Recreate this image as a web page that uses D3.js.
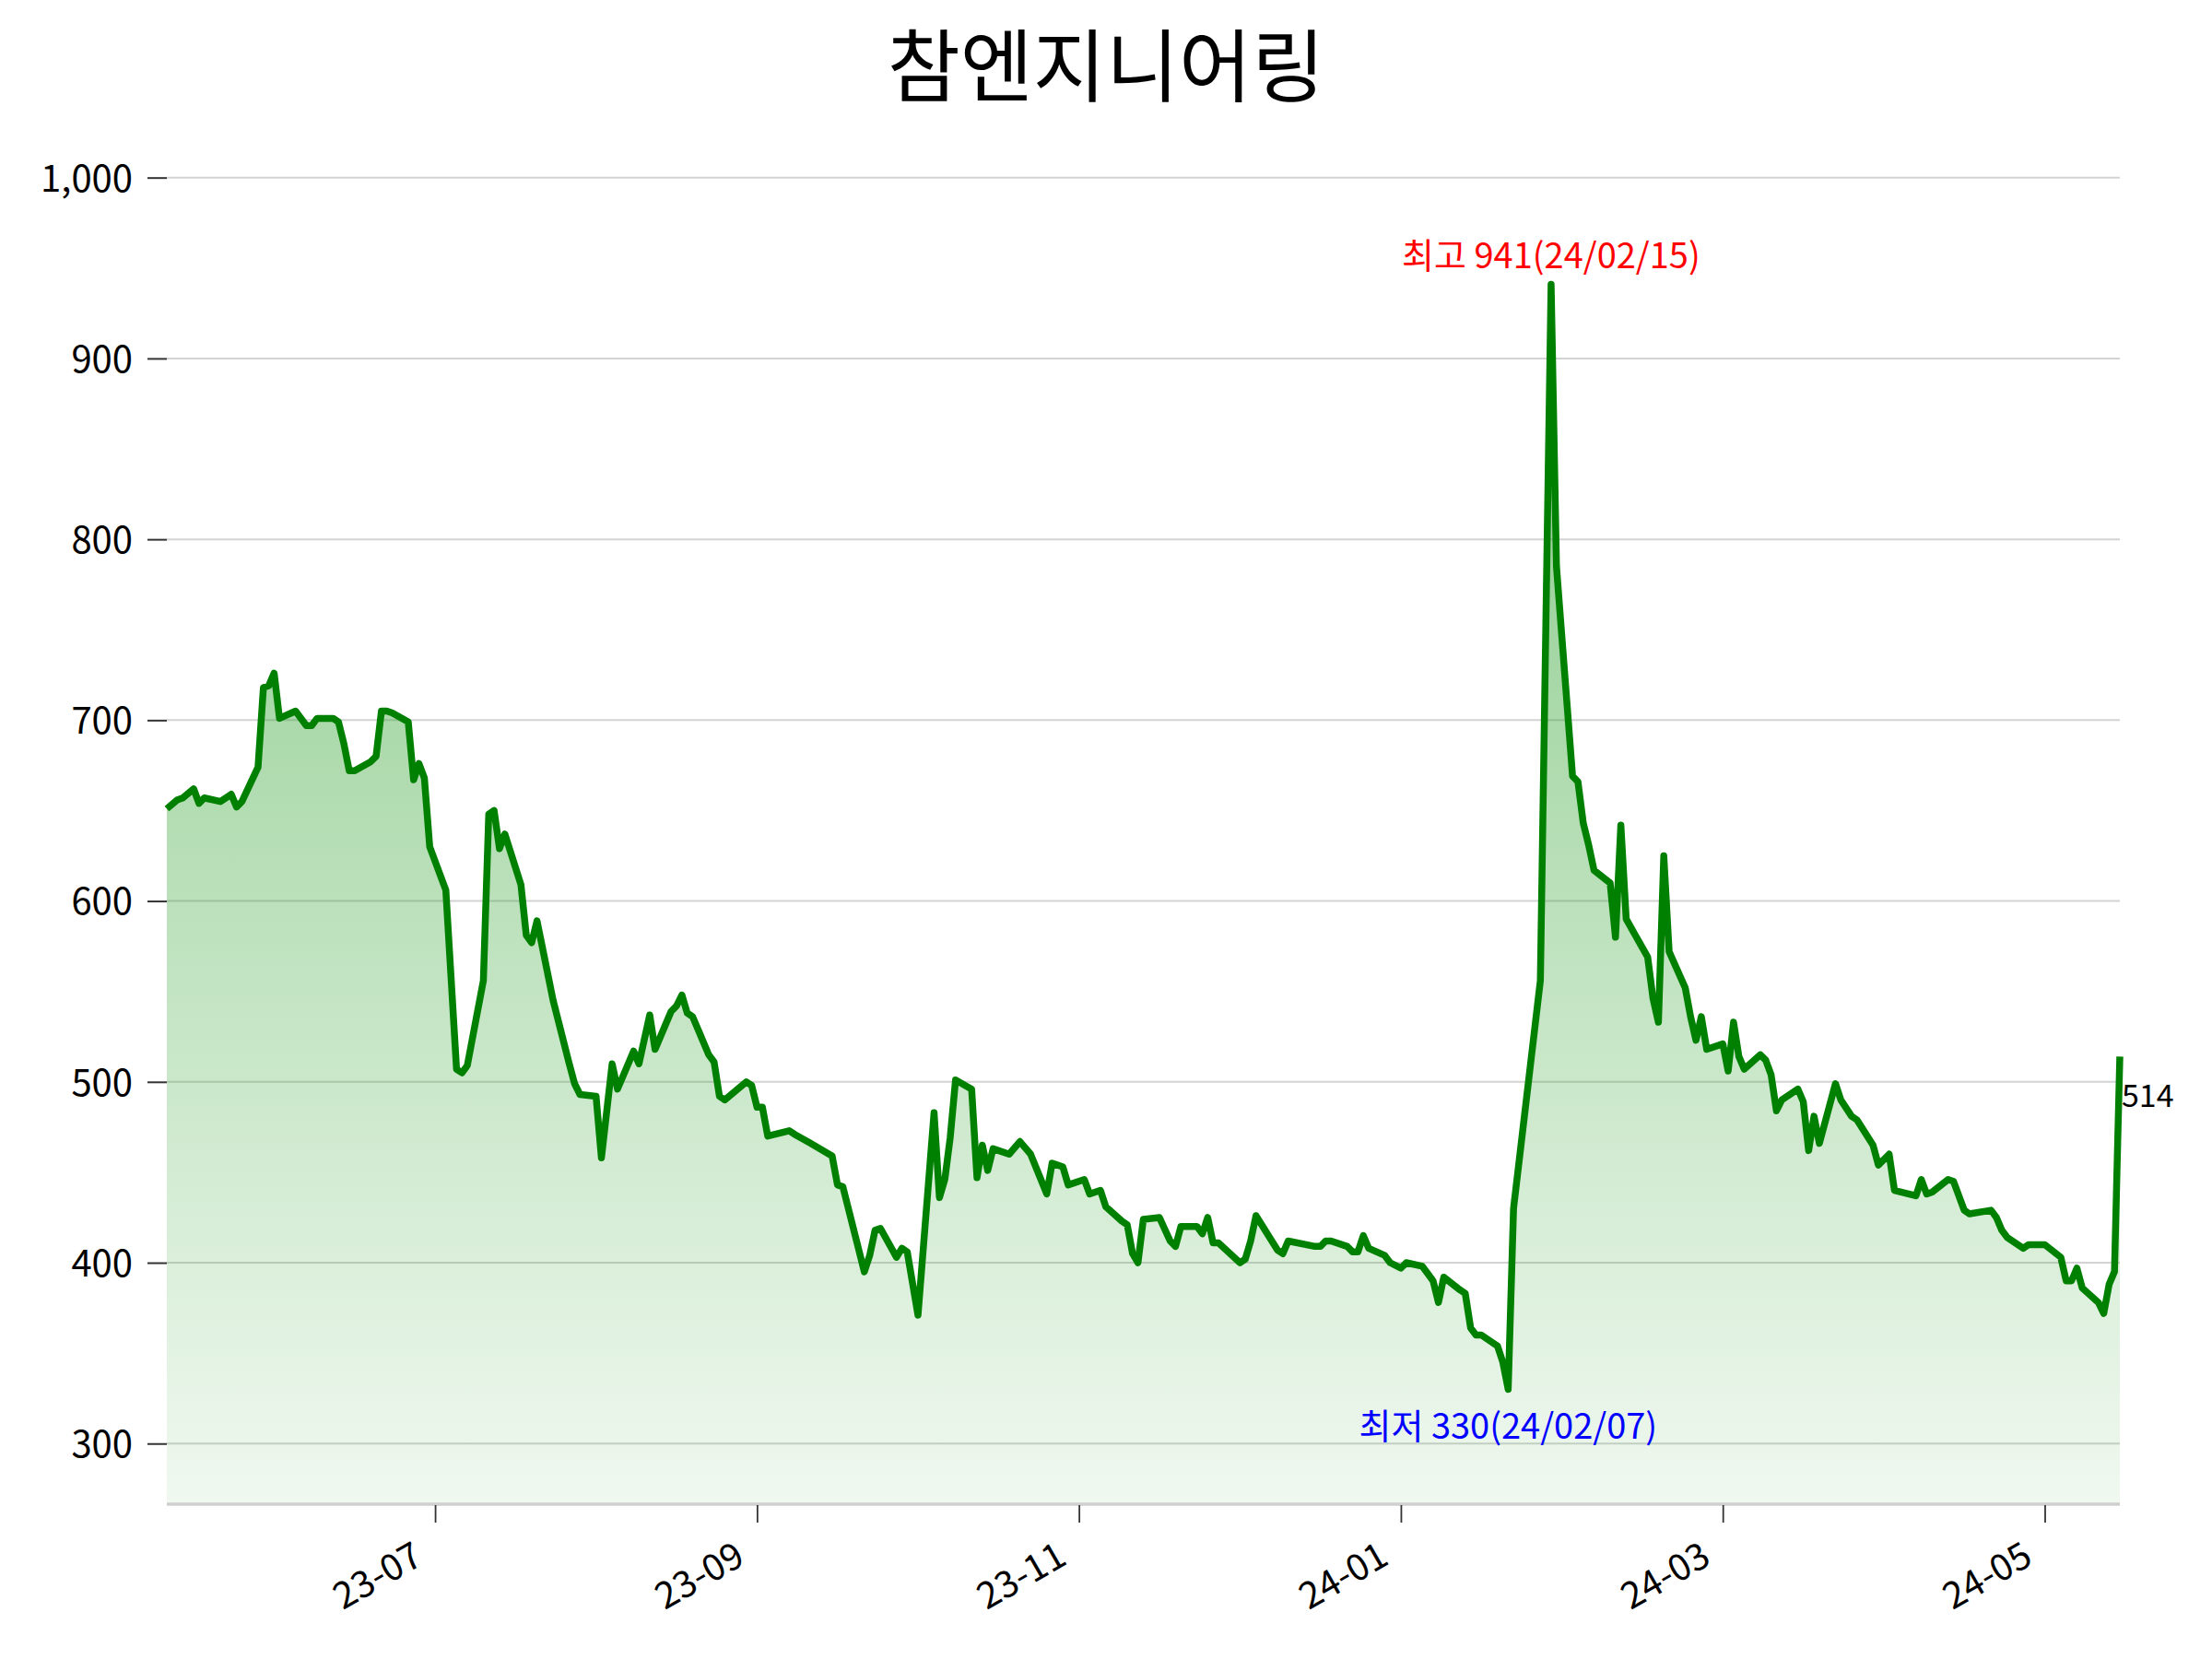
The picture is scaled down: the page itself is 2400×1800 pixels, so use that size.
<!DOCTYPE html>
<html>
<head>
<meta charset="utf-8">
<script src="https://d3js.org/d3.v7.min.js"></script>
<style>
  body { margin: 0; background: #fff; }
  text { font-family: "Noto Sans CJK KR", "Noto Sans", sans-serif; }
</style>
</head>
<body>
<svg id="chart" width="2400" height="1800"></svg>
<script>
var title = "참엔지니어링";

// trading dates
var dates = [
  "2023-06-02","2023-06-04","2023-06-05","2023-06-07","2023-06-08","2023-06-09","2023-06-12","2023-06-14","2023-06-15","2023-06-16",
  "2023-06-19","2023-06-20","2023-06-21","2023-06-22","2023-06-23","2023-06-26","2023-06-28","2023-06-29","2023-06-30",
  "2023-07-03","2023-07-04","2023-07-05","2023-07-06","2023-07-07","2023-07-10","2023-07-11","2023-07-12","2023-07-13","2023-07-14",
  "2023-07-17","2023-07-18","2023-07-19","2023-07-20","2023-07-21","2023-07-24","2023-07-26","2023-07-27","2023-07-28","2023-07-31",
  "2023-08-01","2023-08-02","2023-08-03","2023-08-04","2023-08-07","2023-08-08","2023-08-09","2023-08-10","2023-08-13","2023-08-16",
  "2023-08-17","2023-08-18","2023-08-21","2023-08-22","2023-08-24","2023-08-25","2023-08-28","2023-08-29","2023-08-31",
  "2023-09-01","2023-09-04","2023-09-05","2023-09-06","2023-09-07","2023-09-08","2023-09-11","2023-09-12","2023-09-13","2023-09-14",
  "2023-09-18","2023-09-19","2023-09-20","2023-09-21","2023-09-22","2023-09-26","2023-09-27","2023-09-30",
  "2023-10-04","2023-10-05","2023-10-06","2023-10-10","2023-10-11","2023-10-12","2023-10-13","2023-10-16","2023-10-17","2023-10-18","2023-10-20",
  "2023-10-23","2023-10-24","2023-10-25","2023-10-26","2023-10-27","2023-10-30","2023-10-31",
  "2023-11-01","2023-11-02","2023-11-03","2023-11-06","2023-11-08","2023-11-10","2023-11-13","2023-11-14","2023-11-16","2023-11-17",
  "2023-11-20","2023-11-21","2023-11-23","2023-11-24","2023-11-27","2023-11-28","2023-11-29","2023-11-30",
  "2023-12-01","2023-12-04","2023-12-06","2023-12-07","2023-12-08","2023-12-11","2023-12-12","2023-12-13","2023-12-14","2023-12-15",
  "2023-12-19","2023-12-20","2023-12-21","2023-12-22","2023-12-26","2023-12-27","2023-12-28",
  "2024-01-02","2024-01-03","2024-01-04","2024-01-05","2024-01-08","2024-01-09","2024-01-10","2024-01-11","2024-01-12",
  "2024-01-15","2024-01-16","2024-01-18","2024-01-19","2024-01-22","2024-01-23","2024-01-24","2024-01-25","2024-01-26",
  "2024-01-29","2024-01-30","2024-01-31","2024-02-01","2024-02-02","2024-02-05","2024-02-06","2024-02-07","2024-02-08",
  "2024-02-13","2024-02-15","2024-02-16","2024-02-19","2024-02-20","2024-02-21","2024-02-22","2024-02-23","2024-02-26","2024-02-27","2024-02-28","2024-02-29",
  "2024-03-04","2024-03-05","2024-03-06","2024-03-07","2024-03-08","2024-03-11","2024-03-12","2024-03-13","2024-03-14","2024-03-15",
  "2024-03-18","2024-03-19","2024-03-20","2024-03-21","2024-03-22","2024-03-25","2024-03-26","2024-03-27","2024-03-28","2024-03-29",
  "2024-04-01","2024-04-02","2024-04-03","2024-04-04","2024-04-05","2024-04-08","2024-04-09","2024-04-11","2024-04-12",
  "2024-04-15","2024-04-16","2024-04-18","2024-04-19","2024-04-23","2024-04-24","2024-04-25","2024-04-26","2024-04-29","2024-04-30",
  "2024-05-02","2024-05-03","2024-05-07","2024-05-08","2024-05-09","2024-05-10","2024-05-13","2024-05-14","2024-05-17",
  "2024-05-20","2024-05-21","2024-05-22","2024-05-23","2024-05-24","2024-05-27","2024-05-28","2024-05-29","2024-05-30","2024-05-31"
];

// closing prices
var closes = [
  651,656,657,662,654,657,655,659,652,655,
  674,718,719,726,701,705,697,697,701,
  701,699,687,672,672,677,680,705,705,704,
  699,667,676,668,630,606,507,505,509,556,
  648,650,629,637,609,581,577,589,545,510,
  499,493,492,458,510,496,517,510,537,
  518,539,542,548,538,536,515,511,492,490,
  500,498,486,486,470,473,471,466,
  459,443,442,395,404,418,419,403,408,406,371,
  483,436,446,469,501,496,447,
  465,451,463,460,467,460,438,455,453,443,
  446,438,440,431,423,421,405,400,
  424,425,412,409,420,420,416,425,411,411,
  400,402,412,426,407,405,412,
  409,409,412,412,409,406,406,415,408,
  404,400,397,400,398,394,390,378,392,
  385,383,364,360,360,354,345,330,430,
  556,941,785,669,666,643,631,617,610,580,642,590,
  569,546,533,625,572,552,536,523,536,518,
  521,506,533,514,507,515,512,504,484,490,
  496,489,462,481,466,499,490,481,479,
  465,454,460,440,437,446,438,439,446,445,
  429,427,429,425,418,414,408,410,410,
  403,390,390,397,386,378,372,388,395,514
];

var yTicks = [300, 400, 500, 600, 700, 800, 900, 1000];
var xTickDates = ["2023-07-22","2023-09-20","2023-11-19","2024-01-18","2024-03-18","2024-05-17"];
var yLimits = [267, 1035];

var parse = d3.timeParse("%Y-%m-%d");
var data = dates.map(function(d, i) { return { date: parse(d), close: closes[i] }; });

var svg = d3.select("#chart");
var plotLeft = 181, plotRight = 2300, plotTop = 124, plotBottom = 1631;

var x = d3.scaleTime()
  .domain(d3.extent(data, function(d) { return d.date; }))
  .range([plotLeft, plotRight]);

var y = d3.scaleLinear()
  .domain(yLimits)
  .range([plotBottom, plotTop]);

svg.append("rect").attr("width", 2400).attr("height", 1800).attr("fill", "#fff");

var hi = data.reduce(function(a, b) { return b.close > a.close ? b : a; });
var lo = data.reduce(function(a, b) { return b.close < a.close ? b : a; });
var last = data[data.length - 1];

// gradient under the line
var grad = svg.append("defs").append("linearGradient")
  .attr("id", "fillGrad")
  .attr("gradientUnits", "userSpaceOnUse")
  .attr("x1", 0).attr("x2", 0)
  .attr("y1", y(hi.close)).attr("y2", plotBottom);
grad.append("stop").attr("offset", "0%").attr("stop-color", "#2ca02c").attr("stop-opacity", 0.58);
grad.append("stop").attr("offset", "100%").attr("stop-color", "#2ca02c").attr("stop-opacity", 0.07);

// grid
svg.append("g").selectAll("line")
  .data(yTicks)
  .enter().append("line")
  .attr("x1", plotLeft).attr("x2", plotRight)
  .attr("y1", function(d) { return y(d); })
  .attr("y2", function(d) { return y(d); })
  .attr("stroke", "#d3d3d3")
  .attr("stroke-width", 2);

var area = d3.area()
  .x(function(d) { return x(d.date); })
  .y0(plotBottom)
  .y1(function(d) { return y(d.close); });

svg.append("path")
  .datum(data)
  .attr("d", area)
  .attr("fill", "url(#fillGrad)");

// bottom spine
svg.append("line")
  .attr("x1", plotLeft).attr("x2", plotRight)
  .attr("y1", plotBottom + 1).attr("y2", plotBottom + 1)
  .attr("stroke", "#cfcfcf")
  .attr("stroke-width", 3.5);

var line = d3.line()
  .x(function(d) { return x(d.date); })
  .y(function(d) { return y(d.close); });

svg.append("path")
  .datum(data)
  .attr("d", line)
  .attr("fill", "none")
  .attr("stroke", "#008000")
  .attr("stroke-width", 7.5)
  .attr("stroke-linejoin", "round");

// y axis
var yAxis = svg.append("g")
  .attr("transform", "translate(" + plotLeft + ",0)")
  .call(d3.axisLeft(y).tickValues(yTicks).tickFormat(d3.format(",")).tickSize(21).tickPadding(16));
yAxis.select(".domain").remove();
yAxis.selectAll(".tick line").attr("stroke", "#333").attr("stroke-width", 2);
yAxis.selectAll(".tick text")
  .attr("font-size", 40)
  .attr("fill", "#000")
  .attr("dy", "0.36em")
  .style("font-family", "'Noto Sans CJK KR', sans-serif");

// x axis
var xAxis = svg.append("g")
  .attr("transform", "translate(0," + (plotBottom + 2) + ")")
  .call(d3.axisBottom(x).tickValues(xTickDates.map(parse)).tickFormat(d3.timeFormat("%y-%m")).tickSize(19));
xAxis.select(".domain").remove();
xAxis.selectAll(".tick line").attr("stroke", "#333").attr("stroke-width", 1.8);
xAxis.selectAll(".tick text")
  .attr("font-size", 40)
  .attr("fill", "#000")
  .attr("x", 0).attr("y", 0)
  .attr("dy", "0.72em")
  .attr("text-anchor", "end")
  .attr("transform", "translate(-26,38) rotate(-30)")
  .style("font-family", "'Noto Sans CJK KR', sans-serif");

// title
svg.append("text")
  .attr("x", 1200).attr("y", 104)
  .attr("text-anchor", "middle")
  .attr("font-size", 86)
  .attr("fill", "#000")
  .text(title);

var fmt = d3.timeFormat("%y/%m/%d");

svg.append("text")
  .attr("x", x(hi.date)).attr("y", y(hi.close) - 17)
  .attr("text-anchor", "middle")
  .attr("font-size", 38)
  .attr("fill", "red")
  .text("최고 " + hi.close + "(" + fmt(hi.date) + ")");

svg.append("text")
  .attr("x", x(lo.date)).attr("y", y(lo.close) + 54)
  .attr("text-anchor", "middle")
  .attr("font-size", 38)
  .attr("fill", "blue")
  .text("최저 " + lo.close + "(" + fmt(lo.date) + ")");

svg.append("text")
  .attr("x", x(last.date) + 2).attr("y", y(last.close) + 55)
  .attr("font-size", 34)
  .attr("fill", "#000")
  .text(last.close);
</script>
</body>
</html>
